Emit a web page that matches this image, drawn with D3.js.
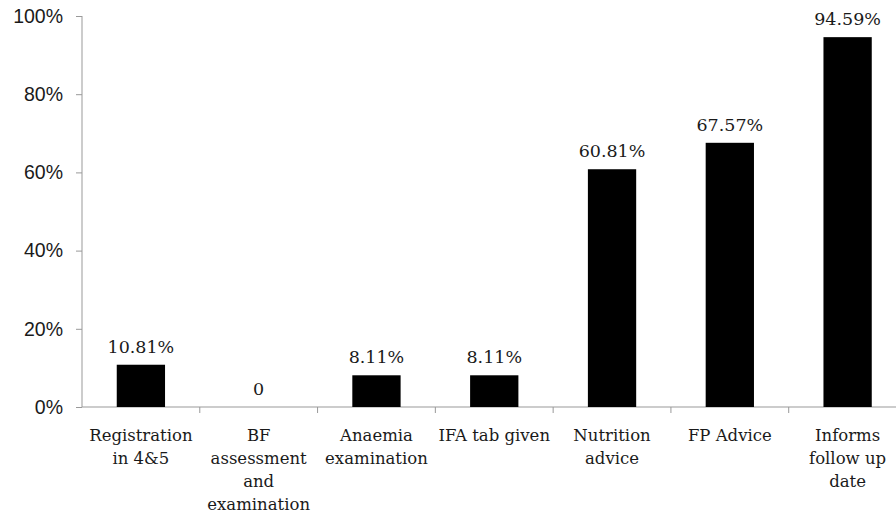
<!DOCTYPE html>
<html>
<head>
<script src="https://cdn.jsdelivr.net/npm/d3@7/dist/d3.min.js"></script>
<style>
  body{ margin:0; background:#fff; }
</style>
</head>
<body>
<div id="chart"></div>
<script>
  var categories = ["Registration\nin 4&5", "BF\nassessment\nand\nexamination", "Anaemia\nexamination",
                    "IFA tab given", "Nutrition\nadvice", "FP Advice", "Informs\nfollow up\ndate"]
  var values = [10.81, 0, 8.11, 8.11, 60.81, 67.57, 94.59]
  var yTicks = [0, 20, 40, 60, 80, 100]

  var width = 896, height = 517
  var svg = d3.select("#chart").append("svg")
      .attr("width", width).attr("height", height)

  var x = d3.scaleBand().domain(categories).range([82, 906.5])
  var y = d3.scaleLinear().domain([0, 100]).range([407, 16])
  var barW = x.bandwidth() * 0.41

  // y axis
  var yAxis = d3.axisLeft(y).tickValues(yTicks).tickSize(6).tickPadding(13)
      .tickFormat(function(d){ return d + "%" })
  var ga = svg.append("g").attr("transform", "translate(82,0)").call(yAxis)
  ga.select(".domain").attr("stroke", "#999").attr("d", "M0," + y(100) + "V" + y(0))
  ga.selectAll(".tick line").attr("stroke", "#999")
  ga.selectAll(".tick text").attr("font-family", "Liberation Sans, Arial, sans-serif")
      .attr("font-size", 19.5).attr("fill", "#1a1a1a")

  // x axis line + separators between categories
  svg.append("line").attr("x1", 82).attr("x2", 906.5)
      .attr("y1", y(0)).attr("y2", y(0)).attr("stroke", "#999")
  svg.selectAll(".sep").data(categories.slice(1)).enter().append("line")
      .attr("x1", function(d){ return x(d) }).attr("x2", function(d){ return x(d) })
      .attr("y1", y(0)).attr("y2", y(0) + 6).attr("stroke", "#999")

  // bars
  svg.selectAll(".bar").data(values).enter().append("rect")
      .attr("x", function(d, i){ return x(categories[i]) + (x.bandwidth() - barW) / 2 })
      .attr("y", function(d){ return y(d) })
      .attr("width", barW)
      .attr("height", function(d){ return y(0) - y(d) })
      .attr("fill", "#000")

  // value labels
  svg.selectAll(".val").data(values).enter().append("text")
      .attr("x", function(d, i){ return x(categories[i]) + x.bandwidth() / 2 })
      .attr("y", function(d){ return y(d) - 12 })
      .attr("text-anchor", "middle")
      .attr("font-family", "DejaVu Serif, serif").attr("font-size", 17.5).attr("fill", "#1a1a1a")
      .text(function(d){ return d === 0 ? "0" : d.toFixed(2) + "%" })

  // category labels
  var cl = svg.selectAll(".cat").data(categories).enter().append("text")
      .attr("text-anchor", "middle")
      .attr("font-family", "DejaVu Serif, serif").attr("font-size", 16.5).attr("fill", "#1a1a1a")
  cl.each(function(d){
      var t = d3.select(this)
      d.split("\n").forEach(function(line, j){
          t.append("tspan").attr("x", x(d) + x.bandwidth() / 2).attr("y", 441 + j * 23).text(line)
      })
  })
</script>
</body>
</html>
